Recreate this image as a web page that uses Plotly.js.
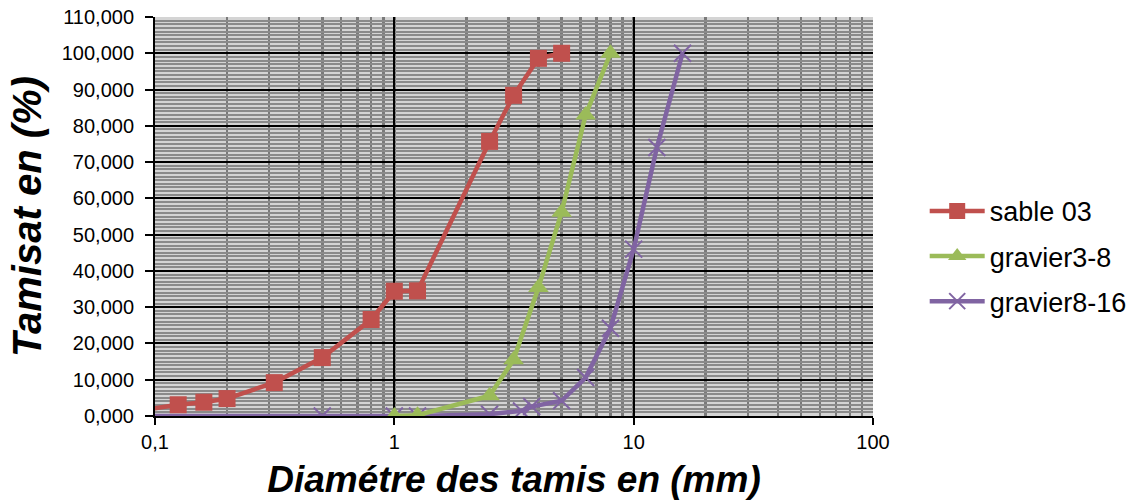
<!DOCTYPE html>
<html>
<head>
<meta charset="utf-8">
<script src="https://cdn.plot.ly/plotly-3.0.1.min.js"></script>
<style>html,body{margin:0;padding:0;background:#fff;}#chart{width:1146px;height:504px;}</style>
</head>
<body>
<div id="chart"></div>
<script>
// Data
const sableX = [0.08, 0.125, 0.16, 0.2, 0.315, 0.5, 0.8, 1, 1.25, 2.5, 3.15, 4, 5];
const sableY = [1.2, 3.1, 3.8, 4.8, 9.2, 16.1, 26.6, 34.4, 34.5, 75.7, 88.4, 98.6, 100];

const g38X = [1, 1.25, 2.5, 3.15, 4, 5, 6.3, 8];
const g38Y = [0, 0.2, 5.6, 15.5, 35.4, 56.2, 83, 100];

const g816X = [0.08, 0.5, 1, 1.25, 2.5, 3.4, 3.75, 5, 6.3, 8, 10, 12.5, 16];
const g816Y = [0, 0, 0, 0, 0.5, 1.4, 2.6, 4.2, 10.6, 24.2, 46, 74, 100];

const seriesNames = ["sable 03", "gravier3-8", "gravier8-16"];
const xTickVals = [0.1, 1, 10, 100];
const xTickText = ["0,1", "1", "10", "100"];

const FONT = "Liberation Sans, Arial, sans-serif";

const traces = [
  {x: g816X, y: g816Y, name: seriesNames[2], type: "scatter", mode: "lines+markers",
   legendgroup: "c", legendrank: 3,
   line: {color: "#8064A2", width: 4.5},
   marker: {symbol: "x-thin-open", size: 17, color: "#8064A2", line: {color: "#8064A2", width: 2}}},
  {x: g38X, y: g38Y, name: seriesNames[1], type: "scatter", mode: "lines+markers",
   legendgroup: "b", legendrank: 2,
   line: {color: "#9BBB59", width: 4.5},
   marker: {symbol: "triangle-up", size: 18, color: "#9BBB59"}},
  {x: sableX, y: sableY, name: seriesNames[0], type: "scatter", mode: "lines+markers",
   legendgroup: "a", legendrank: 1,
   line: {color: "#C0504D", width: 4.5},
   marker: {symbol: "square", size: 17, color: "#C0504D"}}
];

const layout = {
  width: 1146, height: 504,
  margin: {l: 155, r: 273, t: 17, b: 88},
  paper_bgcolor: "#ffffff",
  plot_bgcolor: "#d4d4d4",
  separators: ", ",
  font: {family: FONT, color: "#000"},
  showlegend: true,
  legend: {
    x: 1.072, xanchor: "left", y: 0.40, yanchor: "middle",
    font: {family: FONT, size: 27, color: "#000"},
    itemwidth: 55,
    traceorder: "grouped",
    tracegroupgap: 7,
    bgcolor: "rgba(0,0,0,0)"
  },
  xaxis: {
    type: "log",
    range: [-1, 2],
    tickvals: xTickVals,
    ticktext: xTickText,
    ticks: "outside", ticklen: 7, tickwidth: 2, tickcolor: "#000",
    tickfont: {family: FONT, size: 20, color: "#000"},
    showline: true, linecolor: "#000", linewidth: 2,
    showgrid: true, gridcolor: "#000", gridwidth: 2,
    zeroline: false,
    minor: {dtick: "D1", showgrid: true, gridcolor: "#7a7a7a", gridwidth: 2.5, ticks: ""},
    title: {text: "<b><i>Diamétre des tamis en (mm)</i></b>", font: {family: FONT, size: 37, color: "#000"}, standoff: 14},
    automargin: false
  },
  yaxis: {
    range: [0, 110],
    dtick: 10,
    tickformat: ".3f",
    ticks: "outside", ticklen: 8, tickwidth: 2, tickcolor: "#000",
    ticklabelstandoff: 7,
    tickfont: {family: FONT, size: 20, color: "#000"},
    showline: true, linecolor: "#000", linewidth: 2,
    showgrid: true, gridcolor: "#000", gridwidth: 2,
    zeroline: false,
    minor: {dtick: 1, showgrid: true, gridcolor: "#8a8a8a", gridwidth: 2, ticks: ""},
    title: {text: "<b><i>Tamisat en (%)</i></b>", font: {family: FONT, size: 40, color: "#000"}, standoff: 8},
    automargin: false
  }
};

Plotly.newPlot("chart", traces, layout, {displayModeBar: false, staticPlot: true});
</script>
</body>
</html>
